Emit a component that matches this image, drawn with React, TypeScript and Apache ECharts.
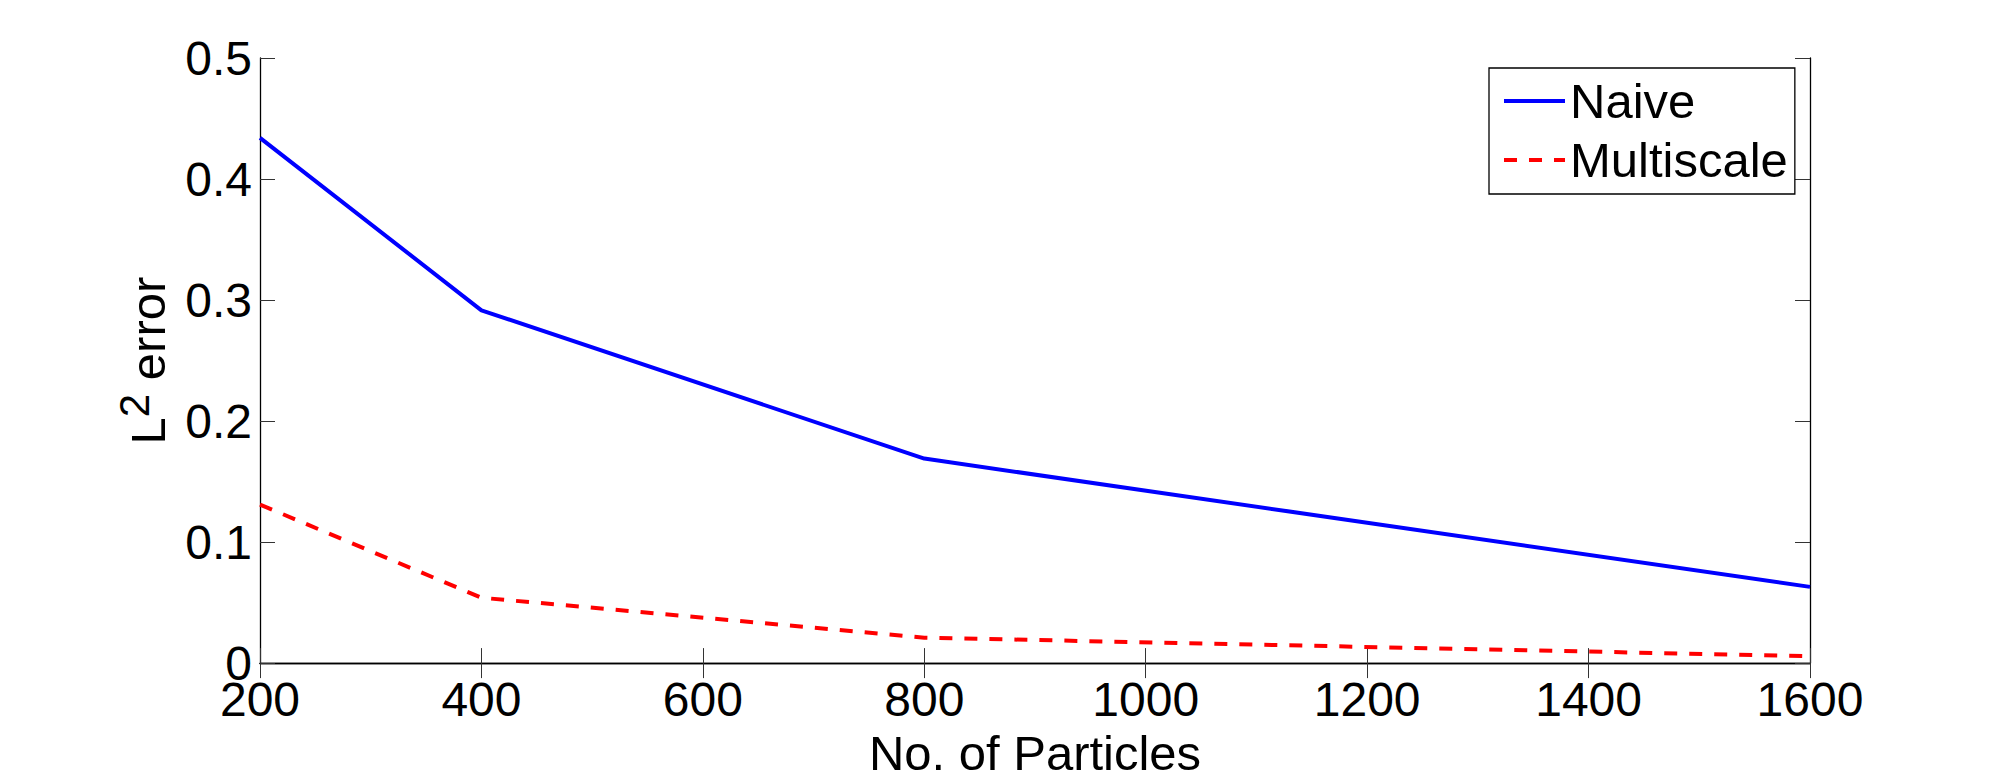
import React, { useEffect, useRef } from "react";
import * as echarts from "echarts";

const particles = [200, 400, 800, 1600];
const naive = [0.434, 0.2915, 0.169, 0.063];
const multiscale = [0.131, 0.054, 0.021, 0.0057];
const seriesNames = ["Naive", "Multiscale"];
const xTitle = "No. of Particles";

const FONT = "Liberation Sans, Arial, Helvetica, sans-serif";

export default function App() {
  const ref = useRef<HTMLDivElement>(null);
  useEffect(() => {
    if (!ref.current) return;
    const chart = echarts.init(ref.current, null, { renderer: "svg" });
    const axisLine = { show: true, lineStyle: { color: "#000", width: 1.3 } };
    const tick = { show: true, inside: true, length: 15, lineStyle: { color: "#333", width: 1 } };
    chart.setOption({
      animation: false,
      backgroundColor: "#fff",
      textStyle: { fontFamily: FONT },
      grid: { left: 260, right: 188, top: 58, bottom: 113 },
      legend: {
        orient: "vertical",
        left: 1489,
        top: 68,
        data: seriesNames,
        itemWidth: 61,
        itemHeight: 20,
        itemGap: 9,
        padding: [8, 7, 9, 13],
        backgroundColor: "#fff",
        borderColor: "#000",
        borderWidth: 1.3,
        borderRadius: 0,
        itemStyle: { opacity: 0 },
        lineStyle: { width: 4 },
        textStyle: { fontSize: 49, color: "#000", fontFamily: FONT, lineHeight: 50 },
      },
      xAxis: [
        {
          type: "value",
          min: 200,
          max: 1600,
          interval: 200,
          position: "bottom",
          name: xTitle,
          nameLocation: "middle",
          nameGap: 58,
          nameTextStyle: { fontSize: 49, color: "#000", fontFamily: FONT },
          axisLine,
          axisTick: tick,
          axisLabel: {
            fontSize: 48,
            color: "#000",
            margin: 12,
            fontFamily: FONT,
            formatter: (v: number) => String(v),
          },
          splitLine: { show: false },
        },
        {
          type: "value",
          min: 200,
          max: 1600,
          interval: 200,
          position: "top",
          axisLine,
          axisTick: tick,
          axisLabel: { show: false },
          splitLine: { show: false },
        },
      ],
      yAxis: [
        {
          type: "value",
          min: 0,
          max: 0.5,
          interval: 0.1,
          position: "left",
          name: "{l|L}{s|2}{l| error}",
          nameLocation: "middle",
          nameGap: 77,
          nameTextStyle: {
            color: "#000",
            fontFamily: FONT,
            rich: {
              l: { fontSize: 49, lineHeight: 70, color: "#000", fontFamily: FONT },
              s: { fontSize: 42, lineHeight: 30, verticalAlign: "top", color: "#000", fontFamily: FONT },
            },
          },
          axisLine,
          axisTick: tick,
          axisLabel: { fontSize: 48, color: "#000", margin: 8, fontFamily: FONT },
          splitLine: { show: false },
        },
        {
          type: "value",
          min: 0,
          max: 0.5,
          interval: 0.1,
          position: "right",
          axisLine,
          axisTick: tick,
          axisLabel: { show: false },
          splitLine: { show: false },
        },
      ],
      series: [
        {
          name: seriesNames[0],
          type: "line",
          data: particles.map((p, i) => [p, naive[i]]),
          symbol: "none",
          lineStyle: { color: "#0000ff", width: 4 },
          itemStyle: { color: "#0000ff" },
        },
        {
          name: seriesNames[1],
          type: "line",
          data: particles.map((p, i) => [p, multiscale[i]]),
          symbol: "none",
          lineStyle: { color: "#ff0000", width: 4, type: [13, 12] },
          itemStyle: { color: "#ff0000" },
        },
      ],
    });
    return () => chart.dispose();
  }, []);
  return (
    <div
      ref={ref}
      style={{ position: "fixed", left: 0, top: 0, width: 1998, height: 782, background: "#fff" }}
    />
  );
}
